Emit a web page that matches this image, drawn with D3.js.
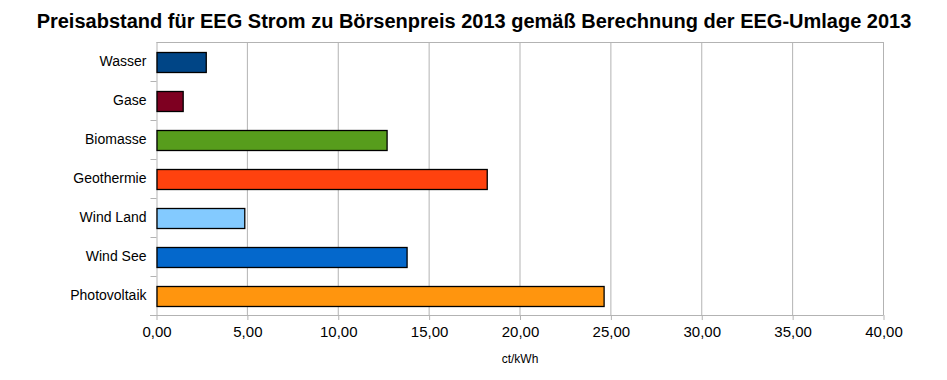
<!DOCTYPE html>
<html>
<head>
<meta charset="utf-8">
<script src="https://cdn.jsdelivr.net/npm/d3@7"></script>
<style>
  body { margin: 0; background: #fff; }
  text { font-family: "Liberation Sans", Arial, sans-serif; }
</style>
</head>
<body>
<div id="chart"></div>
<script>
var categories = ["Wasser", "Gase", "Biomasse", "Geothermie", "Wind Land", "Wind See", "Photovoltaik"];
var values = [2.71, 1.44, 12.66, 18.17, 4.83, 13.76, 24.6];
var colors = ["#004586", "#7e0021", "#579d1c", "#ff420e", "#83caff", "#0468cc", "#ff950e"];
var xTicks = [0, 5, 10, 15, 20, 25, 30, 35, 40];

var margin = {top: 42, left: 156.5, right: 63.5, bottom: 65},
    width = 947 - margin.left - margin.right,
    height = 380 - margin.top - margin.bottom;

var svg = d3.select("#chart")
            .append("svg")
            .attr("width", 947)
            .attr("height", 380);

svg.append("text")
   .attr("x", 474)
   .attr("y", 28)
   .attr("text-anchor", "middle")
   .style("font-weight", "bold")
   .style("font-size", "20px")
   .text("Preisabstand für EEG Strom zu Börsenpreis 2013 gemäß Berechnung der EEG-Umlage 2013");

var g = svg.append("g")
           .attr("transform", "translate(" + margin.left + "," + margin.top + ")");

var x = d3.scaleLinear().domain([0, 40]).range([0, width]);
var y = d3.scaleBand().domain(categories).range([0, height]).paddingInner(0.5).paddingOuter(0.25);
var yBand = d3.scaleBand().domain(categories).range([0, height]);

// grid
g.selectAll("line.grid")
 .data(xTicks.slice(1))
 .enter()
 .append("line")
   .attr("class", "grid")
   .attr("x1", function(d) { return x(d); })
   .attr("x2", function(d) { return x(d); })
   .attr("y1", 0)
   .attr("y2", height)
   .attr("stroke", "#b3b3b3");

// top border
g.append("line")
 .attr("x1", 0).attr("x2", width)
 .attr("y1", 0.5).attr("y2", 0.5)
 .attr("stroke", "#b3b3b3");

// x axis
var xAxis = g.append("g")
             .attr("transform", "translate(0," + height + ")")
             .call(d3.axisBottom(x)
                     .tickValues(xTicks)
                     .tickSize(5)
                     .tickPadding(6)
                     .tickFormat(function(d) { return d3.format(".2f")(d).replace(".", ","); }));
xAxis.select(".domain").attr("stroke", "#b3b3b3").attr("d", "M-6.5,0.5H" + width);
xAxis.selectAll(".tick line").attr("stroke", "#b3b3b3");
xAxis.selectAll(".tick text")
     .style("font-size", "15px")
     .attr("fill", "#000");

// y axis
var yAxis = g.append("g");
yAxis.append("line")
     .attr("x1", 0.5).attr("x2", 0.5)
     .attr("y1", 0).attr("y2", height)
     .attr("stroke", "#b3b3b3");
yAxis.selectAll("line.tick")
     .data(categories.slice(1))
     .enter()
     .append("line")
       .attr("class", "tick")
       .attr("x1", -6).attr("x2", 0)
       .attr("y1", function(d) { return Math.round(yBand(d)) + 0.5; })
       .attr("y2", function(d) { return Math.round(yBand(d)) + 0.5; })
       .attr("stroke", "#b3b3b3");
yAxis.selectAll("text")
     .data(categories)
     .enter()
     .append("text")
       .attr("x", -10)
       .attr("y", function(d) { return yBand(d) + yBand.bandwidth() / 2; })
       .attr("dy", "0.35em")
       .attr("text-anchor", "end")
       .style("font-size", "14px")
       .text(function(d) { return d; });

// bars
g.selectAll("rect.bar")
 .data(values)
 .enter()
 .append("rect")
   .attr("class", "bar")
   .attr("x", 0.5)
   .attr("y", function(d, i) { return Math.round(y(categories[i])) + 0.5; })
   .attr("width", function(d) { return x(d); })
   .attr("height", Math.round(y.bandwidth()))
   .attr("fill", function(d, i) { return colors[i]; })
   .attr("stroke", "#000")
   .attr("stroke-width", 1.3);

svg.append("text")
   .attr("x", margin.left + width / 2)
   .attr("y", 363)
   .attr("text-anchor", "middle")
   .style("font-size", "12px")
   .text("ct/kWh");
</script>
</body>
</html>
